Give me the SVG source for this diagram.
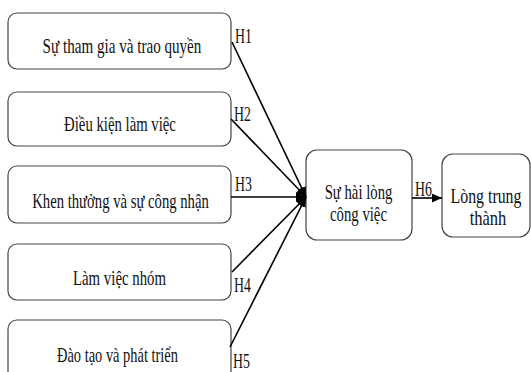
<svg xmlns="http://www.w3.org/2000/svg" width="531" height="372" viewBox="0 0 531 372">
<style>
.box{fill:#fff;stroke:#444;stroke-width:1.2}
text{font-family:"Liberation Serif","Times New Roman",serif;font-size:22px;fill:#111;text-anchor:middle}
.con{stroke:#000;stroke-width:1.6;fill:none}
</style>
<defs>
<marker id="ah" markerUnits="userSpaceOnUse" markerWidth="11" markerHeight="9" refX="10" refY="4.5" orient="auto">
<path d="M0,0 L10,4.5 L0,9 z" fill="#000"/>
</marker>
</defs>
<rect width="531" height="372" fill="#fff"/>
<g id="n1"><rect class="box" x="8" y="13" width="223" height="56" rx="9"/><text transform="translate(122,53) scale(0.687,1)">Sự tham gia và trao quyền</text></g>
<g id="n2"><rect class="box" x="8" y="92" width="223" height="54" rx="9"/><text transform="translate(120,131) scale(0.671,1)">Điều kiện làm việc</text></g>
<g id="n3"><rect class="box" x="8" y="166" width="223" height="57" rx="9"/><text transform="translate(120.5,208) scale(0.668,1)">Khen thưởng và sự công nhận</text></g>
<g id="n4"><rect class="box" x="8" y="244" width="223" height="56" rx="9"/><text transform="translate(119.5,285) scale(0.674,1)">Làm việc nhóm</text></g>
<g id="n5"><rect class="box" x="8" y="320" width="223" height="64" rx="9"/><text transform="translate(117.5,362) scale(0.656,1)">Đào tạo và phát triển</text></g>
<g id="n6"><rect class="box" x="306" y="150" width="106" height="90" rx="11"/><text transform="translate(358.5,199) scale(0.67,1)">Sự hài lòng</text><text transform="translate(358.5,221) scale(0.67,1)">công việc</text></g>
<g id="n7"><rect class="box" x="442" y="154" width="88" height="83" rx="11"/><text transform="translate(486,203) scale(0.72,1)">Lòng trung</text><text transform="translate(488,225) scale(0.75,1)">thành</text></g>
<g id="connectors">
<line class="con" x1="232" y1="42" x2="306" y2="197" marker-end="url(#ah)"/>
<line class="con" x1="231" y1="119" x2="306" y2="197" marker-end="url(#ah)"/>
<line class="con" x1="231" y1="197" x2="306" y2="197" marker-end="url(#ah)"/>
<line class="con" x1="232" y1="272" x2="306" y2="197" marker-end="url(#ah)"/>
<line class="con" x1="230" y1="347" x2="306" y2="197" marker-end="url(#ah)"/>
<line class="con" x1="412" y1="198" x2="442" y2="198" marker-end="url(#ah)"/>
<text transform="translate(243.5,43) scale(0.63,1)">H1</text>
<text transform="translate(242.5,121) scale(0.63,1)">H2</text>
<text transform="translate(243.5,191) scale(0.63,1)">H3</text>
<text transform="translate(242.5,292) scale(0.63,1)">H4</text>
<text transform="translate(241.5,368) scale(0.63,1)">H5</text>
<text transform="translate(423.5,196) scale(0.63,1)">H6</text>
</g>
</svg>
